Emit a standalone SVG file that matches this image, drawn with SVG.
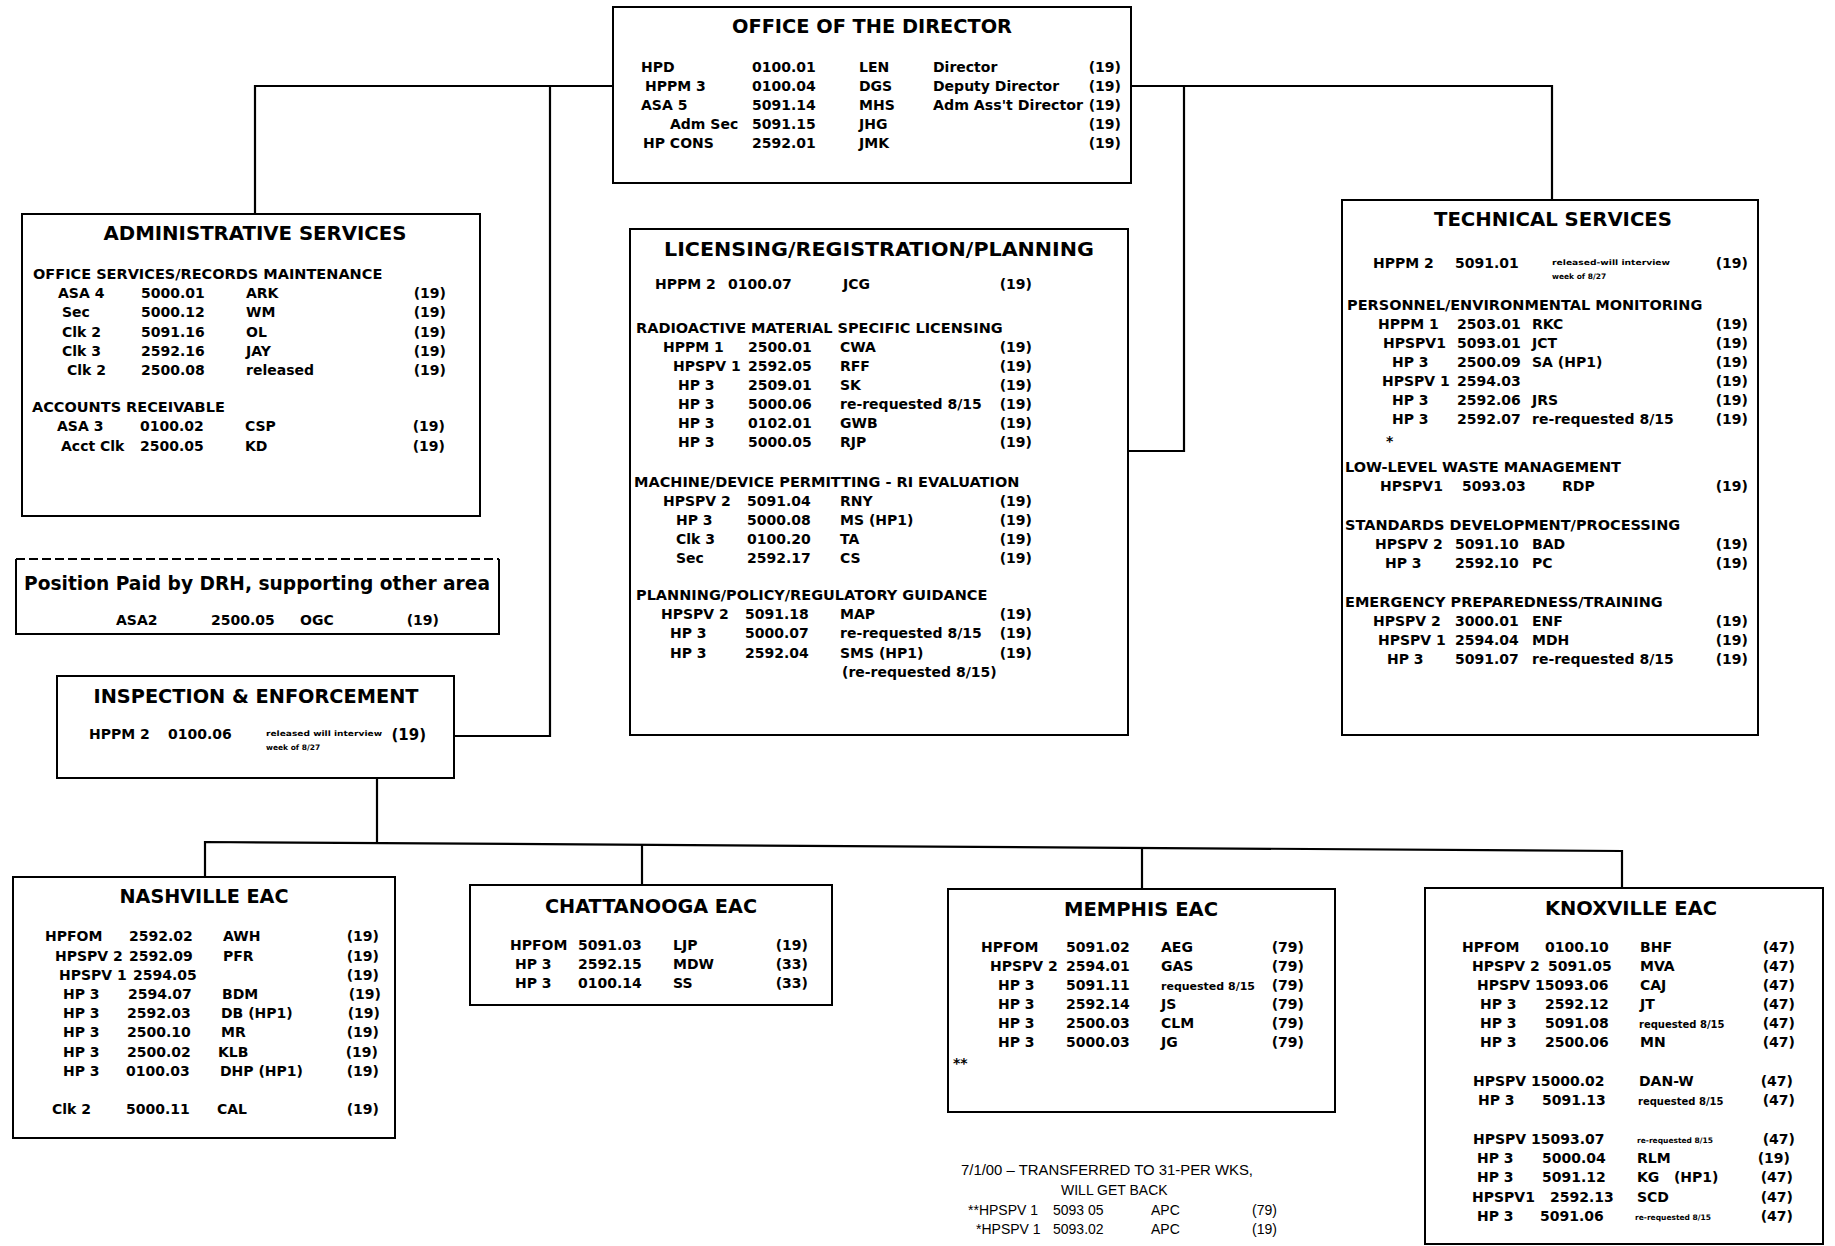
<svg xmlns="http://www.w3.org/2000/svg" width="1835" height="1246" viewBox="0 0 1835 1246">
<style>
text{font-family:"DejaVu Sans","Liberation Sans",sans-serif;font-weight:bold;font-size:14px;fill:#000}
.t{font-size:19.5px;text-anchor:middle}
.h{font-size:14.5px}
.e{text-anchor:end}
.s{font-size:7.5px}
.m{font-size:11px}
.f{font-family:"Liberation Sans",Arial,sans-serif;font-weight:normal;font-size:14px}
.box{fill:#fff;stroke:#000;stroke-width:2}
.c{fill:none;stroke:#000;stroke-width:2.2}
</style>
<rect width="1835" height="1246" fill="#fff"/>
<g id="connectors">
<path class="c" d="M613,86 H255 V214"/>
<path class="c" d="M550,86 V736 H454"/>
<path class="c" d="M1131,86 H1552 V200"/>
<path class="c" d="M1184,86 V451 H1129"/>
<path class="c" d="M377,778 V843"/>
<path class="c" d="M205,879 V842 L1622,851 V888"/>
<path class="c" d="M642,845 V885"/>
<path class="c" d="M1142,848 V889"/>
</g>
<g id="director">
<rect class="box" x="613" y="7" width="518" height="176"/>
<text class="t" x="872" y="33" textLength="280" lengthAdjust="spacingAndGlyphs">OFFICE OF THE DIRECTOR</text>
<text x="641" y="72">HPD</text><text x="752" y="72">0100.01</text><text x="859" y="72">LEN</text><text x="933" y="72">Director</text><text class="e" x="1121" y="72">(19)</text>
<text x="645" y="91">HPPM 3</text><text x="752" y="91">0100.04</text><text x="859" y="91">DGS</text><text x="933" y="91">Deputy Director</text><text class="e" x="1121" y="91">(19)</text>
<text x="641" y="110">ASA 5</text><text x="752" y="110">5091.14</text><text x="859" y="110">MHS</text><text x="933" y="110" textLength="150" lengthAdjust="spacingAndGlyphs">Adm Ass't Director</text><text class="e" x="1121" y="110">(19)</text>
<text x="670" y="129">Adm Sec</text><text x="752" y="129">5091.15</text><text x="859" y="129">JHG</text><text class="e" x="1121" y="129">(19)</text>
<text x="643" y="148">HP CONS</text><text x="752" y="148">2592.01</text><text x="859" y="148">JMK</text><text class="e" x="1121" y="148">(19)</text>
</g>
<g id="admin">
<rect class="box" x="22" y="214" width="458" height="302"/>
<text class="t" x="255" y="240" textLength="303" lengthAdjust="spacingAndGlyphs">ADMINISTRATIVE SERVICES</text>
<text class="h" x="33" y="279">OFFICE SERVICES/RECORDS MAINTENANCE</text>
<text x="58" y="298">ASA 4</text><text x="141" y="298">5000.01</text><text x="246" y="298">ARK</text><text class="e" x="446" y="298">(19)</text>
<text x="62" y="317">Sec</text><text x="141" y="317">5000.12</text><text x="246" y="317">WM</text><text class="e" x="446" y="317">(19)</text>
<text x="62" y="337">Clk 2</text><text x="141" y="337">5091.16</text><text x="246" y="337">OL</text><text class="e" x="446" y="337">(19)</text>
<text x="62" y="356">Clk 3</text><text x="141" y="356">2592.16</text><text x="246" y="356">JAY</text><text class="e" x="446" y="356">(19)</text>
<text x="67" y="375">Clk 2</text><text x="141" y="375">2500.08</text><text x="246" y="375">released</text><text class="e" x="446" y="375">(19)</text>
<text class="h" x="32" y="412">ACCOUNTS RECEIVABLE</text>
<text x="57" y="431">ASA 3</text><text x="140" y="431">0100.02</text><text x="245" y="431">CSP</text><text class="e" x="445" y="431">(19)</text>
<text x="61" y="451">Acct Clk</text><text x="140" y="451">2500.05</text><text x="245" y="451">KD</text><text class="e" x="445" y="451">(19)</text>
</g>
<g id="position-paid">
<path class="box" d="M16,559 V634 H499 V559"/>
<path d="M16,559 H499" fill="none" stroke="#000" stroke-width="2" stroke-dasharray="9 4"/>
<text class="t" x="257" y="590" textLength="466" lengthAdjust="spacingAndGlyphs">Position Paid by DRH, supporting other area</text>
<text x="116" y="625">ASA2</text><text x="211" y="625">2500.05</text><text x="300" y="625">OGC</text><text class="e" x="439" y="625">(19)</text>
</g>
<g id="inspection">
<rect class="box" x="57" y="676" width="397" height="102"/>
<text class="t" x="256" y="703" textLength="325" lengthAdjust="spacingAndGlyphs">INSPECTION &amp; ENFORCEMENT</text>
<text x="89" y="739">HPPM 2</text><text x="168" y="739">0100.06</text>
<text class="s" x="266" y="736" textLength="116" lengthAdjust="spacingAndGlyphs">released will interview</text>
<text class="s" x="266" y="750">week of 8/27</text>
<text class="e" x="426" y="740" style="font-size:15px">(19)</text>
</g>
<g id="licensing">
<rect class="box" x="630" y="229" width="498" height="506"/>
<text class="t" x="879" y="256" textLength="430" lengthAdjust="spacingAndGlyphs">LICENSING/REGISTRATION/PLANNING</text>
<text x="655" y="289">HPPM 2</text><text x="728" y="289">0100.07</text><text x="843" y="289">JCG</text><text class="e" x="1032" y="289">(19)</text>
<text class="h" x="636" y="333">RADIOACTIVE MATERIAL SPECIFIC LICENSING</text>
<text x="663" y="352">HPPM 1</text><text x="748" y="352">2500.01</text><text x="840" y="352">CWA</text><text class="e" x="1032" y="352">(19)</text>
<text x="673" y="371">HPSPV 1</text><text x="748" y="371">2592.05</text><text x="840" y="371">RFF</text><text class="e" x="1032" y="371">(19)</text>
<text x="678" y="390">HP 3</text><text x="748" y="390">2509.01</text><text x="840" y="390">SK</text><text class="e" x="1032" y="390">(19)</text>
<text x="678" y="409">HP 3</text><text x="748" y="409">5000.06</text><text x="840" y="409">re-requested 8/15</text><text class="e" x="1032" y="409">(19)</text>
<text x="678" y="428">HP 3</text><text x="748" y="428">0102.01</text><text x="840" y="428">GWB</text><text class="e" x="1032" y="428">(19)</text>
<text x="678" y="447">HP 3</text><text x="748" y="447">5000.05</text><text x="840" y="447">RJP</text><text class="e" x="1032" y="447">(19)</text>
<text class="h" x="634" y="487">MACHINE/DEVICE PERMITTING - RI EVALUATION</text>
<text x="663" y="506">HPSPV 2</text><text x="747" y="506">5091.04</text><text x="840" y="506">RNY</text><text class="e" x="1032" y="506">(19)</text>
<text x="676" y="525">HP 3</text><text x="747" y="525">5000.08</text><text x="840" y="525">MS (HP1)</text><text class="e" x="1032" y="525">(19)</text>
<text x="676" y="544">Clk 3</text><text x="747" y="544">0100.20</text><text x="840" y="544">TA</text><text class="e" x="1032" y="544">(19)</text>
<text x="676" y="563">Sec</text><text x="747" y="563">2592.17</text><text x="840" y="563">CS</text><text class="e" x="1032" y="563">(19)</text>
<text class="h" x="636" y="600">PLANNING/POLICY/REGULATORY GUIDANCE</text>
<text x="661" y="619">HPSPV 2</text><text x="745" y="619">5091.18</text><text x="840" y="619">MAP</text><text class="e" x="1032" y="619">(19)</text>
<text x="670" y="638">HP 3</text><text x="745" y="638">5000.07</text><text x="840" y="638">re-requested 8/15</text><text class="e" x="1032" y="638">(19)</text>
<text x="670" y="658">HP 3</text><text x="745" y="658">2592.04</text><text x="840" y="658">SMS (HP1)</text><text class="e" x="1032" y="658">(19)</text>
<text x="842" y="677">(re-requested 8/15)</text>
</g>
<g id="technical">
<rect class="box" x="1342" y="200" width="416" height="535"/>
<text class="t" x="1553" y="226" textLength="238" lengthAdjust="spacingAndGlyphs">TECHNICAL SERVICES</text>
<text x="1373" y="268">HPPM 2</text><text x="1455" y="268">5091.01</text>
<text class="s" x="1552" y="265" textLength="118" lengthAdjust="spacingAndGlyphs">released-will interview</text>
<text class="s" x="1552" y="279">week of 8/27</text>
<text class="e" x="1748" y="268">(19)</text>
<text class="h" x="1347" y="310">PERSONNEL/ENVIRONMENTAL MONITORING</text>
<text x="1378" y="329">HPPM 1</text><text x="1457" y="329">2503.01</text><text x="1532" y="329">RKC</text><text class="e" x="1748" y="329">(19)</text>
<text x="1383" y="348">HPSPV1</text><text x="1457" y="348">5093.01</text><text x="1532" y="348">JCT</text><text class="e" x="1748" y="348">(19)</text>
<text x="1392" y="367">HP 3</text><text x="1457" y="367">2500.09</text><text x="1532" y="367">SA (HP1)</text><text class="e" x="1748" y="367">(19)</text>
<text x="1382" y="386">HPSPV 1</text><text x="1457" y="386">2594.03</text><text class="e" x="1748" y="386">(19)</text>
<text x="1392" y="405">HP 3</text><text x="1457" y="405">2592.06</text><text x="1532" y="405">JRS</text><text class="e" x="1748" y="405">(19)</text>
<text x="1392" y="424">HP 3</text><text x="1457" y="424">2592.07</text><text x="1532" y="424">re-requested 8/15</text><text class="e" x="1748" y="424">(19)</text>
<text x="1386" y="446">*</text>
<text class="h" x="1345" y="472">LOW-LEVEL WASTE MANAGEMENT</text>
<text x="1380" y="491">HPSPV1</text><text x="1462" y="491">5093.03</text><text x="1562" y="491">RDP</text><text class="e" x="1748" y="491">(19)</text>
<text class="h" x="1345" y="530">STANDARDS DEVELOPMENT/PROCESSING</text>
<text x="1375" y="549">HPSPV 2</text><text x="1455" y="549">5091.10</text><text x="1532" y="549">BAD</text><text class="e" x="1748" y="549">(19)</text>
<text x="1385" y="568">HP 3</text><text x="1455" y="568">2592.10</text><text x="1532" y="568">PC</text><text class="e" x="1748" y="568">(19)</text>
<text class="h" x="1345" y="607">EMERGENCY PREPAREDNESS/TRAINING</text>
<text x="1373" y="626">HPSPV 2</text><text x="1455" y="626">3000.01</text><text x="1532" y="626">ENF</text><text class="e" x="1748" y="626">(19)</text>
<text x="1378" y="645">HPSPV 1</text><text x="1455" y="645">2594.04</text><text x="1532" y="645">MDH</text><text class="e" x="1748" y="645">(19)</text>
<text x="1387" y="664">HP 3</text><text x="1455" y="664">5091.07</text><text x="1532" y="664">re-requested 8/15</text><text class="e" x="1748" y="664">(19)</text>
</g>
<g id="nashville">
<rect class="box" x="13" y="877" width="382" height="261"/>
<text class="t" x="204" y="903" textLength="169" lengthAdjust="spacingAndGlyphs">NASHVILLE EAC</text>
<text x="45" y="941">HPFOM</text><text x="129" y="941">2592.02</text><text x="223" y="941">AWH</text><text class="e" x="379" y="941">(19)</text>
<text x="55" y="961">HPSPV 2</text><text x="129" y="961">2592.09</text><text x="223" y="961">PFR</text><text class="e" x="379" y="961">(19)</text>
<text x="59" y="980">HPSPV 1</text><text x="133" y="980">2594.05</text><text class="e" x="379" y="980">(19)</text>
<text x="63" y="999">HP 3</text><text x="128" y="999">2594.07</text><text x="222" y="999">BDM</text><text class="e" x="381" y="999">(19)</text>
<text x="63" y="1018">HP 3</text><text x="127" y="1018">2592.03</text><text x="221" y="1018">DB (HP1)</text><text class="e" x="380" y="1018">(19)</text>
<text x="63" y="1037">HP 3</text><text x="127" y="1037">2500.10</text><text x="221" y="1037">MR</text><text class="e" x="379" y="1037">(19)</text>
<text x="63" y="1057">HP 3</text><text x="127" y="1057">2500.02</text><text x="218" y="1057">KLB</text><text class="e" x="378" y="1057">(19)</text>
<text x="63" y="1076">HP 3</text><text x="126" y="1076">0100.03</text><text x="220" y="1076">DHP (HP1)</text><text class="e" x="379" y="1076">(19)</text>
<text x="52" y="1114">Clk 2</text><text x="126" y="1114">5000.11</text><text x="217" y="1114">CAL</text><text class="e" x="379" y="1114">(19)</text>
</g>
<g id="chattanooga">
<rect class="box" x="470" y="885" width="362" height="120"/>
<text class="t" x="651" y="913" textLength="212" lengthAdjust="spacingAndGlyphs">CHATTANOOGA EAC</text>
<text x="510" y="950">HPFOM</text><text x="578" y="950">5091.03</text><text x="673" y="950">LJP</text><text class="e" x="808" y="950">(19)</text>
<text x="515" y="969">HP 3</text><text x="578" y="969">2592.15</text><text x="673" y="969">MDW</text><text class="e" x="808" y="969">(33)</text>
<text x="515" y="988">HP 3</text><text x="578" y="988">0100.14</text><text x="673" y="988">SS</text><text class="e" x="808" y="988">(33)</text>
</g>
<g id="memphis">
<rect class="box" x="948" y="889" width="387" height="223"/>
<text class="t" x="1141" y="916" textLength="154" lengthAdjust="spacingAndGlyphs">MEMPHIS EAC</text>
<text x="981" y="952">HPFOM</text><text x="1066" y="952">5091.02</text><text x="1161" y="952">AEG</text><text class="e" x="1304" y="952">(79)</text>
<text x="990" y="971">HPSPV 2</text><text x="1066" y="971">2594.01</text><text x="1161" y="971">GAS</text><text class="e" x="1304" y="971">(79)</text>
<text x="998" y="990">HP 3</text><text x="1066" y="990">5091.11</text><text class="m" x="1161" y="990">requested 8/15</text><text class="e" x="1304" y="990">(79)</text>
<text x="998" y="1009">HP 3</text><text x="1066" y="1009">2592.14</text><text x="1161" y="1009">JS</text><text class="e" x="1304" y="1009">(79)</text>
<text x="998" y="1028">HP 3</text><text x="1066" y="1028">2500.03</text><text x="1161" y="1028">CLM</text><text class="e" x="1304" y="1028">(79)</text>
<text x="998" y="1047">HP 3</text><text x="1066" y="1047">5000.03</text><text x="1161" y="1047">JG</text><text class="e" x="1304" y="1047">(79)</text>
<text x="953" y="1068">**</text>
</g>
<g id="knoxville">
<rect class="box" x="1425" y="888" width="398" height="356"/>
<text class="t" x="1631" y="915" textLength="172" lengthAdjust="spacingAndGlyphs">KNOXVILLE EAC</text>
<text x="1462" y="952">HPFOM</text><text x="1545" y="952">0100.10</text><text x="1640" y="952">BHF</text><text class="e" x="1795" y="952">(47)</text>
<text x="1472" y="971">HPSPV 2</text><text x="1548" y="971">5091.05</text><text x="1640" y="971">MVA</text><text class="e" x="1795" y="971">(47)</text>
<text x="1477" y="990">HPSPV 15093.06</text><text x="1640" y="990">CAJ</text><text class="e" x="1795" y="990">(47)</text>
<text x="1480" y="1009">HP 3</text><text x="1545" y="1009">2592.12</text><text x="1640" y="1009">JT</text><text class="e" x="1795" y="1009">(47)</text>
<text x="1480" y="1028">HP 3</text><text x="1545" y="1028">5091.08</text><text class="m" x="1639" y="1028" style="font-size:10px">requested 8/15</text><text class="e" x="1795" y="1028">(47)</text>
<text x="1480" y="1047">HP 3</text><text x="1545" y="1047">2500.06</text><text x="1640" y="1047">MN</text><text class="e" x="1795" y="1047">(47)</text>
<text x="1473" y="1086">HPSPV 15000.02</text><text x="1639" y="1086">DAN-W</text><text class="e" x="1793" y="1086">(47)</text>
<text x="1478" y="1105">HP 3</text><text x="1542" y="1105">5091.13</text><text class="m" x="1638" y="1105" style="font-size:10px">requested 8/15</text><text class="e" x="1795" y="1105">(47)</text>
<text x="1473" y="1144">HPSPV 15093.07</text><text class="s" x="1637" y="1143">re-requested 8/15</text><text class="e" x="1795" y="1144">(47)</text>
<text x="1477" y="1163">HP 3</text><text x="1542" y="1163">5000.04</text><text x="1637" y="1163">RLM</text><text class="e" x="1790" y="1163">(19)</text>
<text x="1477" y="1182">HP 3</text><text x="1542" y="1182">5091.12</text><text x="1637" y="1182" style="white-space:pre">KG   (HP1)</text><text class="e" x="1793" y="1182">(47)</text>
<text x="1472" y="1202">HPSPV1</text><text x="1550" y="1202">2592.13</text><text x="1637" y="1202">SCD</text><text class="e" x="1793" y="1202">(47)</text>
<text x="1477" y="1221">HP 3</text><text x="1540" y="1221">5091.06</text><text class="s" x="1635" y="1220">re-requested 8/15</text><text class="e" x="1793" y="1221">(47)</text>
</g>
<g id="footnote">
<text class="f" x="961" y="1175" textLength="292" lengthAdjust="spacingAndGlyphs">7/1/00 – TRANSFERRED TO 31-PER WKS,</text>
<text class="f" x="1061" y="1195">WILL GET BACK</text>
<text class="f" x="968" y="1215">**HPSPV 1</text><text class="f" x="1053" y="1215">5093 05</text><text class="f" x="1151" y="1215">APC</text><text class="f" x="1252" y="1215">(79)</text>
<text class="f" x="976" y="1234">*HPSPV 1</text><text class="f" x="1053" y="1234">5093.02</text><text class="f" x="1151" y="1234">APC</text><text class="f" x="1252" y="1234">(19)</text>
</g>
</svg>
